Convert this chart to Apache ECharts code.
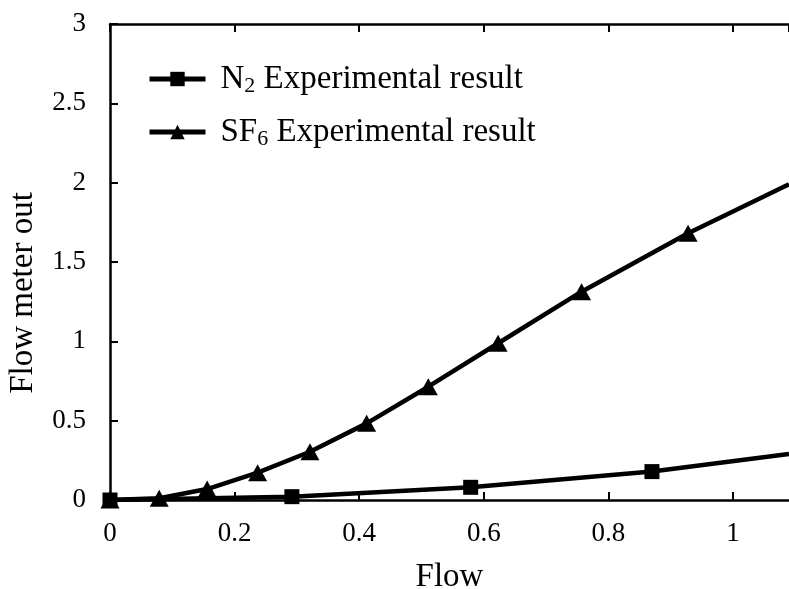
<!DOCTYPE html>
<html>
<head>
<meta charset="utf-8">
<script src="https://cdn.jsdelivr.net/npm/echarts@6/dist/echarts.min.js"></script>
<style>
    html, body { margin: 0; padding: 0; background: #fff; }
    #chart { width: 789px; height: 589px; }
</style>
</head>
<body>
<div id="chart"></div>
<script>
// flow values and meter output
// the last point of each series is where the line leaves the frame (no marker)
const n2Flow = [0, 0.292, 0.579, 0.870, 1.09]
const n2Out = [0, 0.021, 0.080, 0.179, 0.29]
const sf6Flow = [0, 0.079, 0.156, 0.237, 0.321, 0.412, 0.511, 0.623, 0.757, 0.928, 1.09]
const sf6Out = [0, 0.011, 0.069, 0.172, 0.304, 0.483, 0.714, 0.988, 1.313, 1.681, 1.99]
const xTicks = [0, 0.2, 0.4, 0.6, 0.8, 1]
const yTicks = [0, 0.5, 1, 1.5, 2, 2.5, 3]

const font = '"Liberation Serif", "DejaVu Serif", serif'
const black = '#000'

// last point only marks where the line is cut by the frame
const toData = (xs, ys) => xs.map((x, i) => i === xs.length - 1
    ? { value: [x, ys[i]], symbol: 'none' }
    : [x, ys[i]])

const chart = echarts.init(document.getElementById('chart'))
chart.setOption({
    animation: false,
    backgroundColor: '#fff',
    grid: {
        left: 110,
        right: 0,
        top: 24,
        bottom: 89,
        containLabel: false,
        outerBoundsMode: 'none',
    },
    legend: {
        left: 142,
        top: 56,
        orient: 'vertical',
        itemWidth: 56,
        itemHeight: 18,
        itemGap: 17,
        data: ['N2', 'SF6'],
        lineStyle: { width: 5 },
        formatter: name => name === 'N2'
            ? '{n|N}{sub|2}{n| Experimental result}'
            : '{n|SF}{sub|6}{n| Experimental result}',
        textStyle: {
            color: black,
            fontFamily: font,
            fontSize: 33,
            padding: [0, 0, 0, 10],
            rich: {
                n: { fontFamily: font, fontSize: 33, color: black, lineHeight: 36 },
                sub: { fontFamily: font, fontSize: 22, color: black, lineHeight: 36, verticalAlign: 'bottom', padding: [14, 0, 0, 0] },
            },
        },
    },
    xAxis: [{
        type: 'value',
        min: 0,
        max: 1.09,
        interval: 0.2,
        name: 'Flow',
        nameLocation: 'middle',
        nameGap: 61,
        nameTextStyle: { color: black, fontFamily: font, fontSize: 33 },
        splitLine: { show: false },
        axisLine: { lineStyle: { color: black, width: 2.5 } },
        axisTick: { inside: true, length: 8, lineStyle: { color: black, width: 2 } },
        axisLabel: {
            color: black,
            fontFamily: font,
            fontSize: 27,
            margin: 20,
            showMaxLabel: false,
            formatter: v => xTicks.includes(+v.toFixed(1)) ? String(+v.toFixed(1)) : '',
        },
    }, {
        type: 'value',
        position: 'top',
        min: 0,
        max: 1.09,
        interval: 0.2,
        splitLine: { show: false },
        axisLine: { lineStyle: { color: black, width: 2.5 } },
        axisTick: { inside: true, length: 8, lineStyle: { color: black, width: 2 } },
        axisLabel: { show: false },
    }],
    yAxis: {
        type: 'value',
        min: yTicks[0],
        max: yTicks[yTicks.length - 1],
        interval: 0.5,
        name: 'Flow meter out',
        nameLocation: 'middle',
        nameGap: 70,
        // extra right padding pushes the rotated title down the axis
        nameTextStyle: { color: black, fontFamily: font, fontSize: 33, padding: [0, 62, 0, 0] },
        splitLine: { show: false },
        axisLine: { lineStyle: { color: black, width: 2.5 } },
        axisTick: { inside: true, length: 8, lineStyle: { color: black, width: 2 } },
        axisLabel: { color: black, fontFamily: font, fontSize: 27, margin: 24 },
    },
    series: [{
        name: 'N2',
        type: 'line',
        data: toData(n2Flow, n2Out),
        symbol: 'rect',
        symbolSize: 15,
        lineStyle: { color: black, width: 4.5 },
        itemStyle: { color: black },
        z: 3,
    }, {
        name: 'SF6',
        type: 'line',
        data: toData(sf6Flow, sf6Out),
        symbol: 'triangle',
        symbolSize: [19, 17],
        lineStyle: { color: black, width: 4.5 },
        itemStyle: { color: black },
        z: 4,
    }],
})
</script>
</body>
</html>
